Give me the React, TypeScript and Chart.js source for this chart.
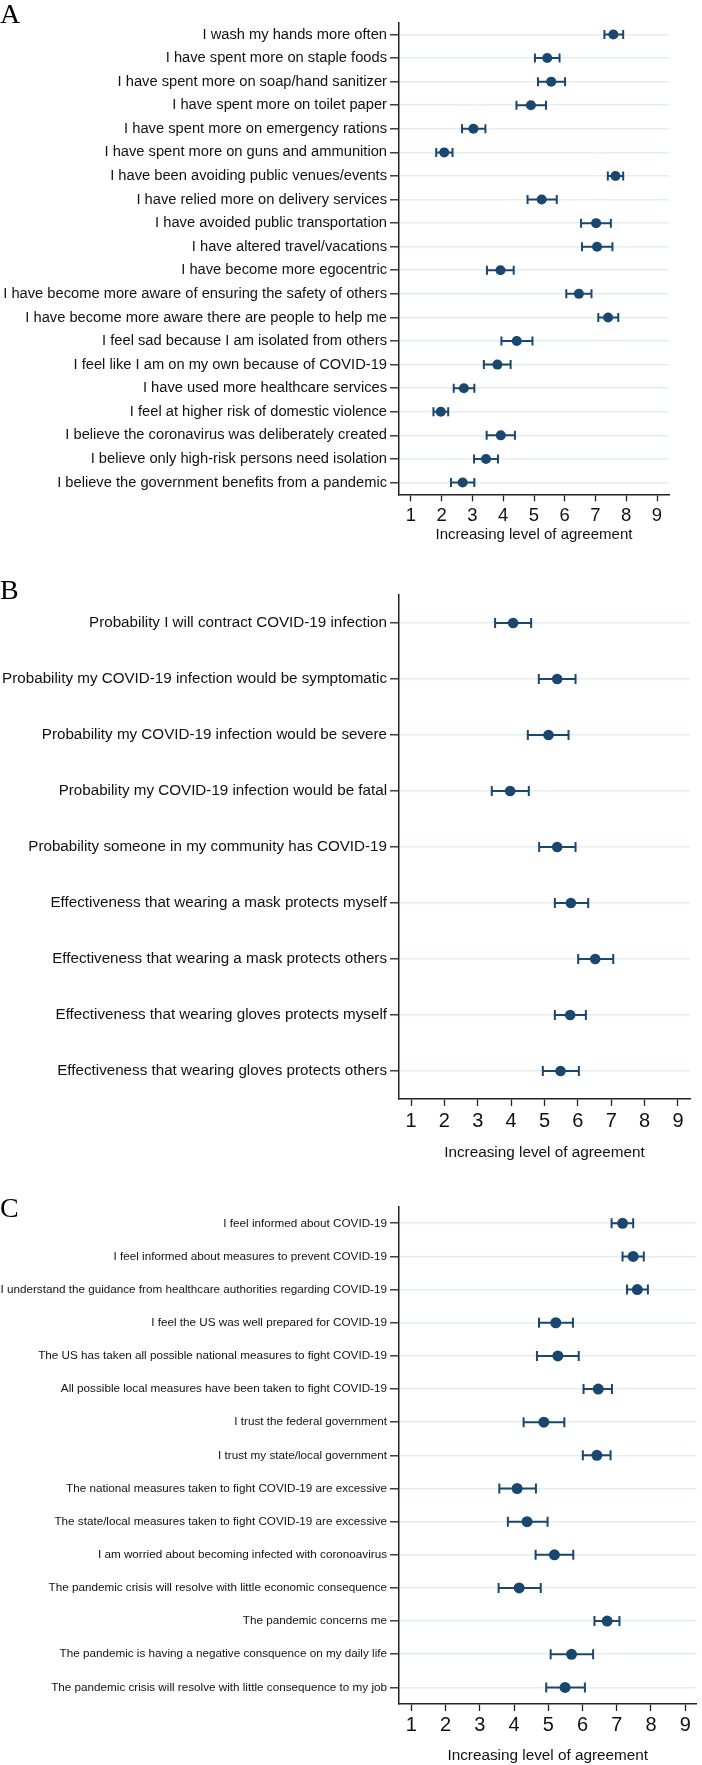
import React, { useEffect, useRef } from 'react';
import { Chart, registerables } from 'chart.js';

Chart.register(...registerables);

// ---------- Data ----------
const labelsA = [
  'I wash my hands more often',
  'I have spent more on staple foods',
  'I have spent more on soap/hand sanitizer',
  'I have spent more on toilet paper',
  'I have spent more on emergency rations',
  'I have spent more on guns and ammunition',
  'I have been avoiding public venues/events',
  'I have relied more on delivery services',
  'I have avoided public transportation',
  'I have altered travel/vacations',
  'I have become more egocentric',
  'I have become more aware of ensuring the safety of others',
  'I have become more aware there are people to help me',
  'I feel sad because I am isolated from others',
  'I feel like I am on my own because of COVID-19',
  'I have used more healthcare services',
  'I feel at higher risk of domestic violence',
  'I believe the coronavirus was deliberately created',
  'I believe only high-risk persons need isolation',
  'I believe the government benefits from a pandemic',
];
const meanA = [7.58, 5.43, 5.56, 4.9, 3.03, 2.08, 7.65, 5.25, 7.02, 7.05, 3.91, 6.46, 7.41, 4.44, 3.81, 2.72, 1.97, 3.92, 3.44, 2.68];
const lowA = [7.29, 5.03, 5.13, 4.43, 2.66, 1.82, 7.4, 4.79, 6.53, 6.56, 3.47, 6.05, 7.09, 3.94, 3.37, 2.39, 1.73, 3.46, 3.05, 2.3];
const highA = [7.9, 5.83, 6.01, 5.39, 3.42, 2.35, 7.9, 5.74, 7.5, 7.55, 4.34, 6.87, 7.74, 4.95, 4.24, 3.06, 2.21, 4.38, 3.83, 3.06];

const labelsB = [
  'Probability I will contract COVID-19 infection',
  'Probability my COVID-19 infection would be symptomatic',
  'Probability my COVID-19 infection would be severe',
  'Probability my COVID-19 infection would be fatal',
  'Probability someone in my community has COVID-19',
  'Effectiveness that wearing a mask protects myself',
  'Effectiveness that wearing a mask protects others',
  'Effectiveness that wearing gloves protects myself',
  'Effectiveness that wearing gloves protects others',
];
const meanB = [4.06, 5.38, 5.12, 3.97, 5.38, 5.79, 6.52, 5.77, 5.48];
const lowB = [3.52, 4.83, 4.5, 3.42, 4.84, 5.31, 6.01, 5.31, 4.95];
const highB = [4.6, 5.93, 5.72, 4.53, 5.93, 6.31, 7.06, 6.24, 6.03];

const labelsC = [
  'I feel informed about COVID-19',
  'I feel informed about measures to prevent COVID-19',
  'I understand the guidance from healthcare authorities regarding COVID-19',
  'I feel the US was well prepared for COVID-19',
  'The US has taken all possible national measures to fight COVID-19',
  'All possible local measures have been taken to fight COVID-19',
  'I trust the federal government',
  'I trust my state/local government',
  'The national measures taken to fight COVID-19 are excessive',
  'The state/local measures taken to fight COVID-19 are excessive',
  'I am worried about becoming infected with coronoavirus',
  'The pandemic crisis will resolve with little economic consequence',
  'The pandemic concerns me',
  'The pandemic is having a negative consquence on my daily life',
  'The pandemic crisis will resolve with little consequence to my job',
];
const meanC = [7.17, 7.48, 7.6, 5.22, 5.28, 6.46, 4.87, 6.42, 4.09, 4.38, 5.18, 4.15, 6.72, 5.68, 5.49];
const lowC = [6.85, 7.17, 7.3, 4.73, 4.67, 6.03, 4.28, 6.01, 3.57, 3.82, 4.63, 3.55, 6.35, 5.07, 4.94];
const highC = [7.48, 7.79, 7.91, 5.72, 5.89, 6.86, 5.47, 6.82, 4.64, 4.98, 5.73, 4.78, 7.08, 6.31, 6.07];

const tickValues = [1, 2, 3, 4, 5, 6, 7, 8, 9];
const axisTitle = 'Increasing level of agreement';
const panelLetters = ['A', 'B', 'C'];

// ---------- Styles ----------
const NAVY = '#1a476f';
const GRID = '#e4eef1';
const AXIS = '#222222';
const TEXT = '#111111';
const SANS = "'Liberation Sans', Arial, Helvetica, sans-serif";
const SERIF = "'Liberation Serif', 'Times New Roman', serif";

const errorBarPlugin = {
  id: 'errorBars',
  beforeDatasetsDraw(chart: any, _args: any, opts: any) {
    const { ctx, scales } = chart;
    const x = scales.x;
    const y = scales.y;
    const low: number[] = opts.low || [];
    const high: number[] = opts.high || [];
    const cap: number = opts.cap || 4;
    ctx.save();
    ctx.strokeStyle = opts.color || NAVY;
    ctx.lineWidth = opts.width || 2;
    ctx.lineCap = 'butt';
    for (let i = 0; i < low.length; i++) {
      const yp = y.getPixelForValue(i);
      const x1 = x.getPixelForValue(low[i]);
      const x2 = x.getPixelForValue(high[i]);
      ctx.beginPath();
      ctx.moveTo(x1, yp);
      ctx.lineTo(x2, yp);
      ctx.moveTo(x1, yp - cap);
      ctx.lineTo(x1, yp + cap);
      ctx.moveTo(x2, yp - cap);
      ctx.lineTo(x2, yp + cap);
      ctx.stroke();
    }
    ctx.restore();
  },
};

type PanelProps = {
  top: number;
  height: number;
  labels: string[];
  mean: number[];
  low: number[];
  high: number[];
  xMin: number;
  xMax: number;
  padTop: number;
  padRight: number;
  xAxisHeight: number;
  labelSize: number;
  tickSize: number;
  titleSize: number;
  tickPad: number;
  dotR: number;
  cap: number;
};

function Panel(p: PanelProps) {
  const ref = useRef<HTMLCanvasElement>(null);
  useEffect(() => {
    if (!ref.current) return;
    const chart = new Chart(ref.current, {
      type: 'line',
      data: {
        labels: p.labels,
        datasets: [
          {
            data: p.mean,
            showLine: false,
            pointRadius: p.dotR,
            pointHoverRadius: p.dotR,
            pointBackgroundColor: NAVY,
            pointBorderColor: NAVY,
            pointBorderWidth: 0,
          },
        ],
      },
      options: {
        indexAxis: 'y',
        responsive: false,
        animation: false,
        devicePixelRatio: 1,
        layout: { padding: { top: p.padTop, right: p.padRight, left: 0, bottom: 0 } },
        plugins: {
          legend: { display: false },
          tooltip: { enabled: false },
          errorBars: { low: p.low, high: p.high, cap: p.cap, width: 2, color: NAVY },
        } as any,
        scales: {
          y: {
            type: 'category',
            offset: true,
            grid: { color: GRID, lineWidth: 1.6, tickColor: AXIS, tickLength: 9, tickWidth: 1.3 },
            border: { color: AXIS, width: 1.5 },
            ticks: { font: { size: p.labelSize, family: SANS }, color: TEXT, padding: 3, autoSkip: false },
            afterFit: (s: any) => {
              s.width = 399;
            },
          },
          x: {
            type: 'linear',
            min: p.xMin,
            max: p.xMax,
            grid: { drawOnChartArea: false, color: AXIS, tickColor: AXIS, tickLength: 7, tickWidth: 1.3 },
            border: { color: AXIS, width: 1.5 },
            ticks: {
              font: { size: p.tickSize, family: SANS },
              color: TEXT,
              padding: p.tickPad,
              autoSkip: false,
              maxRotation: 0,
            },
            afterBuildTicks: (s: any) => {
              s.ticks = tickValues.map((v) => ({ value: v }));
            },
            afterFit: (s: any) => {
              s.height = p.xAxisHeight;
            },
            title: {
              display: true,
              text: axisTitle,
              font: { size: p.titleSize, family: SANS },
              color: TEXT,
              padding: { top: 0, bottom: 0 },
            },
          },
        } as any,
      } as any,
      plugins: [errorBarPlugin as any],
    });
    return () => chart.destroy();
  }, []);
  return (
    <canvas
      ref={ref}
      width={702}
      height={p.height}
      style={{ position: 'absolute', left: 0, top: p.top, width: 702, height: p.height }}
    />
  );
}

const letterTops = [0, 576, 1194];

export default function App() {
  return (
    <div style={{ position: 'absolute', left: 0, top: 0, width: 702, height: 1765, background: '#fff', overflow: 'hidden' }}>
      <Panel
        top={0}
        height={544}
        labels={labelsA}
        mean={meanA}
        low={lowA}
        high={highA}
        xMin={0.61}
        xMax={9.39}
        padTop={22.7}
        padRight={33}
        xAxisHeight={49.7}
        labelSize={14.7}
        tickSize={18.5}
        titleSize={15}
        tickPad={3.5}
        dotR={5}
        cap={4.5}
      />
      <Panel
        top={560}
        height={602}
        labels={labelsB}
        mean={meanB}
        low={lowB}
        high={highB}
        xMin={0.64}
        xMax={9.36}
        padTop={35}
        padRight={12}
        xAxisHeight={63}
        labelSize={15.2}
        tickSize={20}
        titleSize={15.3}
        tickPad={3.5}
        dotR={5.3}
        cap={5}
      />
      <Panel
        top={1170}
        height={595}
        labels={labelsC}
        mean={meanC}
        low={lowC}
        high={highC}
        xMin={0.64}
        xMax={9.33}
        padTop={36.7}
        padRight={0}
        xAxisHeight={61}
        labelSize={11.7}
        tickSize={20}
        titleSize={15.3}
        tickPad={2}
        dotR={5.5}
        cap={5}
      />
      {panelLetters.map((l, i) => (
        <div
          key={l}
          style={{
            position: 'absolute',
            left: 0,
            top: letterTops[i],
            fontFamily: SERIF,
            fontSize: 28,
            lineHeight: '28px',
            color: '#000',
          }}
        >
          {l}
        </div>
      ))}
    </div>
  );
}
